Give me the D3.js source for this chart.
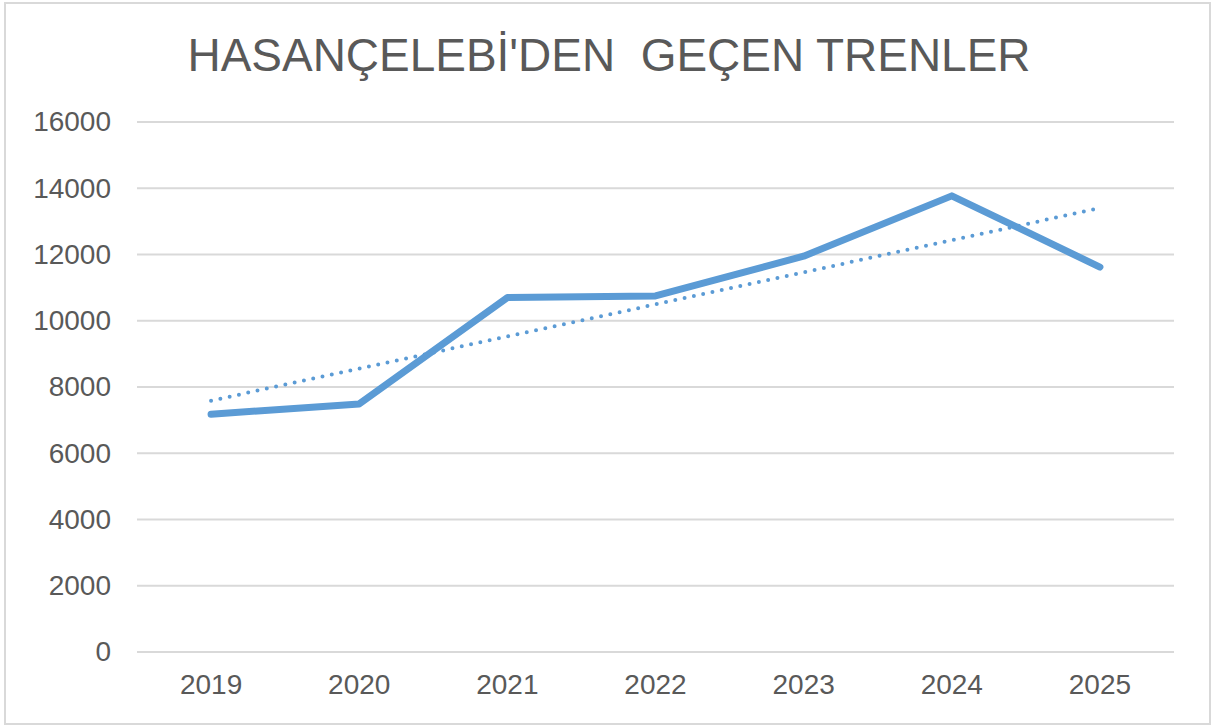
<!DOCTYPE html>
<html>
<head>
<meta charset="utf-8">
<script src="https://cdn.jsdelivr.net/npm/d3@7"></script>
<style>
  body { margin: 0; background: #fff; }
  svg { display: block; font-family: "Liberation Sans", Arial, sans-serif; }
</style>
</head>
<body>
<svg id="chart" width="1215" height="728"></svg>
<script>
// chart data
var years = ['2019', '2020', '2021', '2022', '2023', '2024', '2025'];
var trains = [7180, 7490, 10700, 10750, 11950, 13770, 11620];
var yTicks = [0, 2000, 4000, 6000, 8000, 10000, 12000, 14000, 16000];
var title = "HASANÇELEBİ'DEN  GEÇEN TRENLER";

var svg = d3.select('#chart');
var plotLeft = 137, plotRight = 1174, plotTop = 122, plotBottom = 652;

// outer frame
svg.append('rect')
  .attr('x', 5).attr('y', 3)
  .attr('width', 1205).attr('height', 721)
  .attr('fill', '#fff')
  .attr('stroke', '#d9d9d9')
  .attr('stroke-width', 2);

var x = d3.scaleBand().domain(years).range([plotLeft, plotRight]);
var y = d3.scaleLinear().domain([0, 16000]).range([plotBottom, plotTop]);

// gridlines
svg.selectAll('.grid')
  .data(yTicks).enter()
  .append('line')
  .attr('class', 'grid')
  .attr('x1', plotLeft).attr('x2', plotRight)
  .attr('y1', function(d){ return y(d); })
  .attr('y2', function(d){ return y(d); })
  .attr('stroke', '#d9d9d9')
  .attr('stroke-width', 2);

// y axis labels
var yAxis = d3.axisLeft(y).tickValues(yTicks).tickFormat(d3.format('d'))
  .tickSize(0).tickPadding(26);
svg.append('g')
  .attr('transform', 'translate(' + plotLeft + ',0)')
  .call(yAxis)
  .call(function(g){ g.select('.domain').remove(); })
  .selectAll('text')
  .attr('font-size', 28)
  .attr('fill', '#595959')
  .attr('font-family', '"Liberation Sans", Arial, sans-serif');

// x axis labels
var xAxis = d3.axisBottom(x).tickSize(0).tickPadding(22);
svg.append('g')
  .attr('transform', 'translate(0,' + plotBottom + ')')
  .call(xAxis)
  .call(function(g){ g.select('.domain').remove(); })
  .selectAll('text')
  .attr('font-size', 28)
  .attr('fill', '#595959')
  .attr('font-family', '"Liberation Sans", Arial, sans-serif');

function cx(i){ return x(years[i]) + x.bandwidth() / 2; }

// linear trendline (least squares on the series)
var n = trains.length;
var mx = d3.mean(trains, function(d, i){ return i; });
var my = d3.mean(trains);
var num = d3.sum(trains, function(d, i){ return (i - mx) * (d - my); });
var den = d3.sum(trains, function(d, i){ return (i - mx) * (i - mx); });
var slope = num / den, icpt = my - slope * mx;
var trend = [icpt, icpt + slope * (n - 1)];

svg.append('line')
  .attr('x1', cx(0)).attr('x2', cx(n - 1))
  .attr('y1', y(trend[0])).attr('y2', y(trend[1]))
  .attr('stroke', '#5b9bd5')
  .attr('stroke-width', 4)
  .attr('stroke-linecap', 'round')
  .attr('stroke-dasharray', '0,9.5');

// main series
var line = d3.line()
  .x(function(d, i){ return cx(i); })
  .y(function(d){ return y(d); });

svg.append('path')
  .datum(trains)
  .attr('d', line)
  .attr('fill', 'none')
  .attr('stroke', '#5b9bd5')
  .attr('stroke-width', 7)
  .attr('stroke-linejoin', 'round')
  .attr('stroke-linecap', 'round');

// title
svg.append('text')
  .attr('x', 609).attr('y', 71)
  .attr('text-anchor', 'middle')
  .attr('font-size', 46)
  .attr('fill', '#595959')
  .attr('textLength', 843)
  .attr('lengthAdjust', 'spacingAndGlyphs')
  .style('white-space', 'pre')
  .text(title);
</script>
</body>
</html>
